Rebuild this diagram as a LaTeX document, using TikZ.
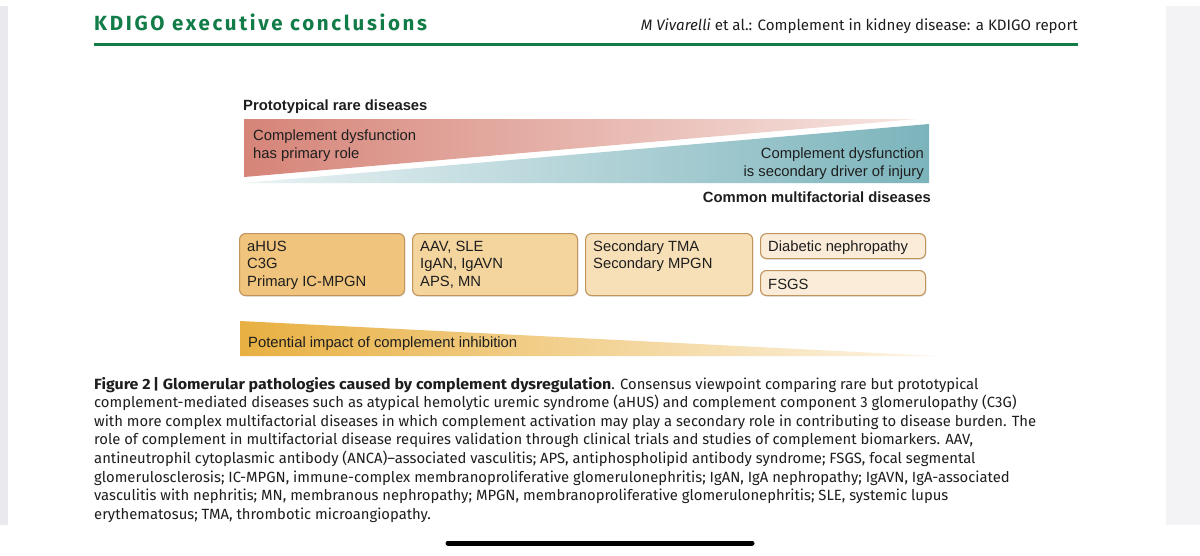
\documentclass[tikz,border=0pt]{standalone}
\usepackage{fontspec}
\setmainfont{Liberation Sans}
\newfontfamily\capfont[BoldFeatures={FakeStretch=1.08}]{Fira Sans}
\newfontfamily\headfont[LetterSpace=13]{Fira Sans}
\usetikzlibrary{positioning,shadows}

\definecolor{kdigogreen}{RGB}{18,124,72}
\definecolor{rosedark}{RGB}{214,132,120}
\definecolor{roselight}{RGB}{247,230,226}
\definecolor{teallight}{RGB}{234,243,244}
\definecolor{tealdark}{RGB}{124,180,188}
\definecolor{ambdark}{RGB}{232,176,66}
\definecolor{amblight}{RGB}{253,245,230}
\definecolor{boxedge}{RGB}{192,148,92}
\definecolor{boxa}{RGB}{240,196,124}
\definecolor{boxb}{RGB}{244,213,158}
\definecolor{boxc}{RGB}{247,224,184}
\definecolor{boxd}{RGB}{250,236,216}
\definecolor{pageedge}{RGB}{234,234,238}
\definecolor{inktext}{RGB}{30,30,30}

\tikzset{
  figtext/.style={font=\fontsize{14.8}{17.5}\selectfont, text=inktext, inner sep=0pt, align=left},
  captext/.style={font=\capfont\fontsize{14.8}{18.6}\selectfont, text=inktext, inner sep=0pt, align=left},
  dbox/.style={draw=boxedge, line width=1.1pt, rounded corners=6pt, anchor=north west, inner sep=0pt,
    drop shadow={shadow xshift=0.8pt, shadow yshift=-1.2pt, opacity=0.2}}
}

\begin{document}
\begin{tikzpicture}[x=1pt,y=-1pt]
    \fill[white] (0,0) rectangle (1200,555);
    \useasboundingbox (0,0) rectangle (1200,555);
    % page edges and home bar of the screenshot
    \fill[pageedge] (0,6) rectangle (8,525);
    \fill[pageedge!60] (1166,6) rectangle (1200,525);
    \draw[line width=5pt,line cap=round] (448,543) -- (752,543);

    % running head
    \node[anchor=base west,inner sep=0pt,text=kdigogreen,font=\headfont\bfseries\fontsize{20.5}{20.5}\selectfont] (kdigo) at (94,30) {KDIGO executive conclusions};
    \node[anchor=base east,inner sep=0pt,text=inktext,font=\capfont\fontsize{15.1}{15.1}\selectfont] (running) at (1078,30) {\textit{M Vivarelli} et al.: Complement in kidney disease: a KDIGO report};
    \draw[kdigogreen,line width=3pt] (94,44) -- (1078,44);

    % the two wedges
    \node[figtext,font=\bfseries\fontsize{14.8}{17.5}\selectfont,anchor=base west] (rare) at (243,110) {Prototypical rare diseases};
    \shade[left color=rosedark,right color=roselight] (244,119) -- (917,119) -- (244,177) -- cycle;
    \shade[left color=teallight,right color=tealdark] (244,183) -- (929,124) -- (929,183) -- cycle;
    \node[figtext,anchor=base west] (primary) at (253,158) {Complement dysfunction\\has primary role};
    \node[figtext,anchor=base east,align=right] (secondary) at (924,176) {Complement dysfunction\\is secondary driver of injury};
    \node[figtext,font=\bfseries\fontsize{14.8}{17.5}\selectfont,anchor=base east] (common) at (931,202) {Common multifactorial diseases};

    % disease boxes
    \node[dbox,fill=boxa,minimum width=165pt,minimum height=62pt] (ahus) at (239,233) {};
    \node[dbox,fill=boxb,minimum width=165pt,minimum height=62pt] (aav) at (412,233) {};
    \node[dbox,fill=boxc,minimum width=167pt,minimum height=62pt] (tma) at (585,233) {};
    \node[dbox,fill=boxd,minimum width=165pt,minimum height=25pt] (diab) at (760,233) {};
    \node[dbox,fill=boxd,minimum width=165pt,minimum height=25pt] (fsgs) at (760,270) {};
    \node[figtext,anchor=base west] (ahustxt) at (247,286) {aHUS\\C3G\\Primary IC-MPGN};
    \node[figtext,anchor=base west] (aavtxt) at (420,286) {AAV, SLE\\IgAN, IgAVN\\APS, MN};
    \node[figtext,anchor=base west] (tmatxt) at (593,268.5) {Secondary TMA\\Secondary MPGN};
    \node[figtext,anchor=base west] (diabtxt) at (768,251) {Diabetic nephropathy};
    \node[figtext,anchor=base west] (fsgstxt) at (768,289) {FSGS};

    % impact wedge
    \shade[left color=ambdark,right color=amblight] (240,321) -- (937,356) -- (240,356) -- cycle;
    \node[figtext,anchor=base west] (impact) at (248,347) {Potential impact of complement inhibition};

    % legend
    \node[captext,anchor=base west] (caption) at (94,519.2) {\textbf{Figure 2\,|\ Glomerular pathologies caused by complement dysregulation}. Consensus viewpoint comparing rare but prototypical\\
complement-mediated diseases such as atypical hemolytic uremic syndrome (aHUS) and complement component 3 glomerulopathy (C3G)\\
with more complex multifactorial diseases in which complement activation may play a secondary role in contributing to disease burden. The\\
role of complement in multifactorial disease requires validation through clinical trials and studies of complement biomarkers. AAV,\\
antineutrophil cytoplasmic antibody (ANCA)–associated vasculitis; APS, antiphospholipid antibody syndrome; FSGS, focal segmental\\
glomerulosclerosis; IC-MPGN, immune-complex membranoproliferative glomerulonephritis; IgAN, IgA nephropathy; IgAVN, IgA-associated\\
vasculitis with nephritis; MN, membranous nephropathy; MPGN, membranoproliferative glomerulonephritis; SLE, systemic lupus\\
erythematosus; TMA, thrombotic microangiopathy.};
\end{tikzpicture}
\end{document}
